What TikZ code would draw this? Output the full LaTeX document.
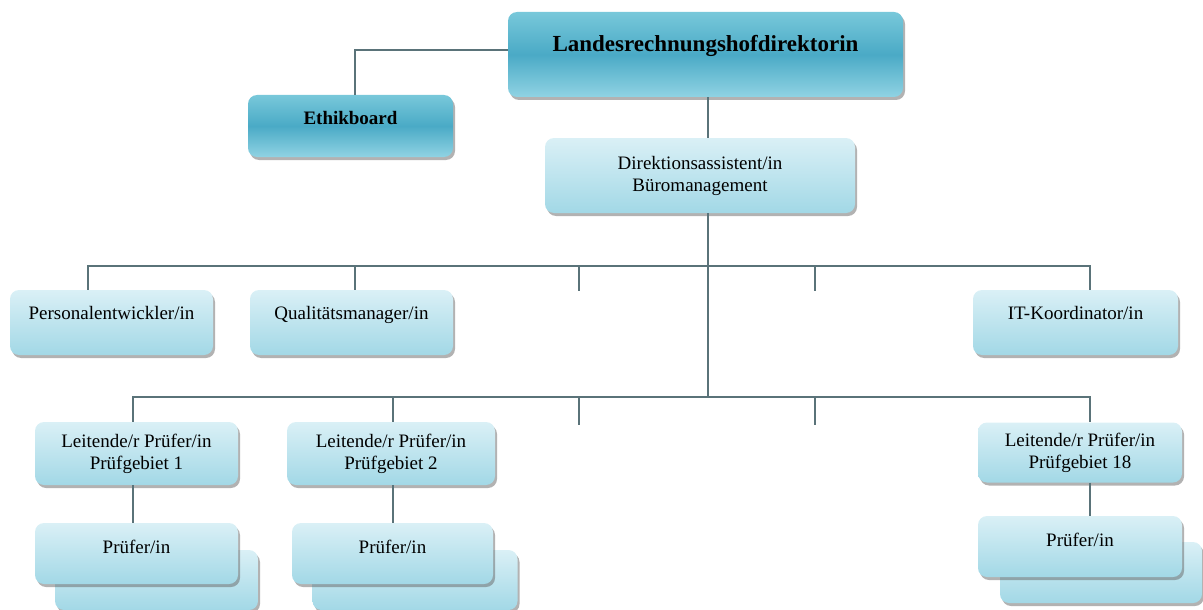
\documentclass[tikz,border=0pt]{standalone}
\usepackage{fontspec}
\setmainfont{Liberation Serif}
\usetikzlibrary{shadows}

\definecolor{lnk}{HTML}{5A7379}
\definecolor{litetop}{HTML}{DAF0F6}
\definecolor{litebot}{HTML}{A2D8E6}
\definecolor{darktop}{HTML}{78C8DA}
\definecolor{darkbot}{HTML}{90D3E3}
\definecolor{darkmid}{HTML}{4AAAC6}

\tikzset{
  org/.style={rounded corners=9pt, inner sep=2pt, align=center,
    font=\fontsize{19}{22}\selectfont,
    drop shadow={shadow xshift=2pt, shadow yshift=-3pt, fill=black!60, opacity=.5}},
  lite/.style={org, top color=litetop, bottom color=litebot},
  dark/.style={org, top color=darktop, bottom color=darkbot, middle color=darkmid,
    font=\fontsize{19}{22}\selectfont\bfseries},
  sz/.style 2 args={minimum width=#1pt, minimum height=#2pt},
  link/.style={draw=lnk, line width=1.6pt}
}

\begin{document}
\begin{tikzpicture}[x=1pt,y=-1pt]
\useasboundingbox (0,0) rectangle (1203,610);

  \node[dark, sz={395}{85}, text depth=23pt, font=\fontsize{23}{26}\selectfont\bfseries] (dir) at (705.5,54.5) {Landesrechnungshofdirektorin};
  \node[dark, sz={205}{62}, text depth=17pt] (eth) at (350.5,126) {Ethikboard};
  \node[lite, sz={310}{75}] (ass) at (700,175.5) {Direktionsassistent/in\\Büromanagement};

  \node[lite, sz={203}{65}, text depth=19pt] (pers) at (111.5,322.5) {Personalentwickler/in};
  \node[lite, sz={203}{65}, text depth=19pt] (qual) at (351.5,322.5) {Qualitätsmanager/in};
  \node[lite, sz={205}{65}, text depth=19pt] (itk) at (1075.5,322.5) {IT-Koordinator/in};

  \node[lite, sz={203}{63}] (lp1) at (136.5,453.5) {Leitende/r Prüfer/in\\Prüfgebiet 1};
  \node[lite, sz={208}{63}] (lp2) at (391,453.5) {Leitende/r Prüfer/in\\Prüfgebiet 2};
  \node[lite, sz={204}{60}] (lp18) at (1080,452.5) {Leitende/r Prüfer/in\\Prüfgebiet 18};

  % stacked auditor boxes
  \node[lite, sz={203}{60}] (pr1b) at (156.5,580) {};
  \node[lite, sz={203}{61}, text depth=13pt] (pr1) at (136.5,553.5) {Prüfer/in};
  \node[lite, sz={205}{60}] (pr2b) at (415,580) {};
  \node[lite, sz={201}{61}, text depth=13pt] (pr2) at (392.5,553.5) {Prüfer/in};
  \node[lite, sz={202}{61}] (pr18b) at (1101,572.5) {};
  \node[lite, sz={204}{61}, text depth=13pt] (pr18) at (1080,546.5) {Prüfer/in};

  % bus points
  \coordinate (b1) at (708,266);
  \coordinate (b2) at (708,397);
  \coordinate (t1) at (88,266);
  \coordinate (t2) at (355,266);
  \coordinate (t3) at (579,266);
  \coordinate (t4) at (815,266);
  \coordinate (t5) at (1090,266);
  \coordinate (e3) at (579,291);
  \coordinate (e4) at (815,291);
  \coordinate (u1) at (133,397);
  \coordinate (u2) at (393,397);
  \coordinate (u3) at (579,397);
  \coordinate (u4) at (815,397);
  \coordinate (u5) at (1090,397);
  \coordinate (f3) at (579,425);
  \coordinate (f4) at (815,425);

  \draw[link] ([yshift=4.5pt]dir.west) -| (eth.north -| t2);
  \draw[link] (dir.south -| b1) -- (ass.north -| b1);
  \draw[link] (ass.south -| b1) -- (b2);

  \draw[link] (pers.north -| t1) -- (t1) -- (t5) -- (itk.north -| t5);
  \draw[link] (t2) -- (qual.north -| t2);
  \draw[link] (t3) -- (e3);
  \draw[link] (t4) -- (e4);

  \draw[link] (lp1.north -| u1) -- (u1) -- (u5) -- (lp18.north -| u5);
  \draw[link] (u2) -- (lp2.north -| u2);
  \draw[link] (u3) -- (f3);
  \draw[link] (u4) -- (f4);

  \draw[link] (lp1.south -| u1) -- (pr1.north -| u1);
  \draw[link] (lp2.south -| u2) -- (pr2.north -| u2);
  \draw[link] (lp18.south -| u5) -- (pr18.north -| u5);
\end{tikzpicture}
\end{document}
